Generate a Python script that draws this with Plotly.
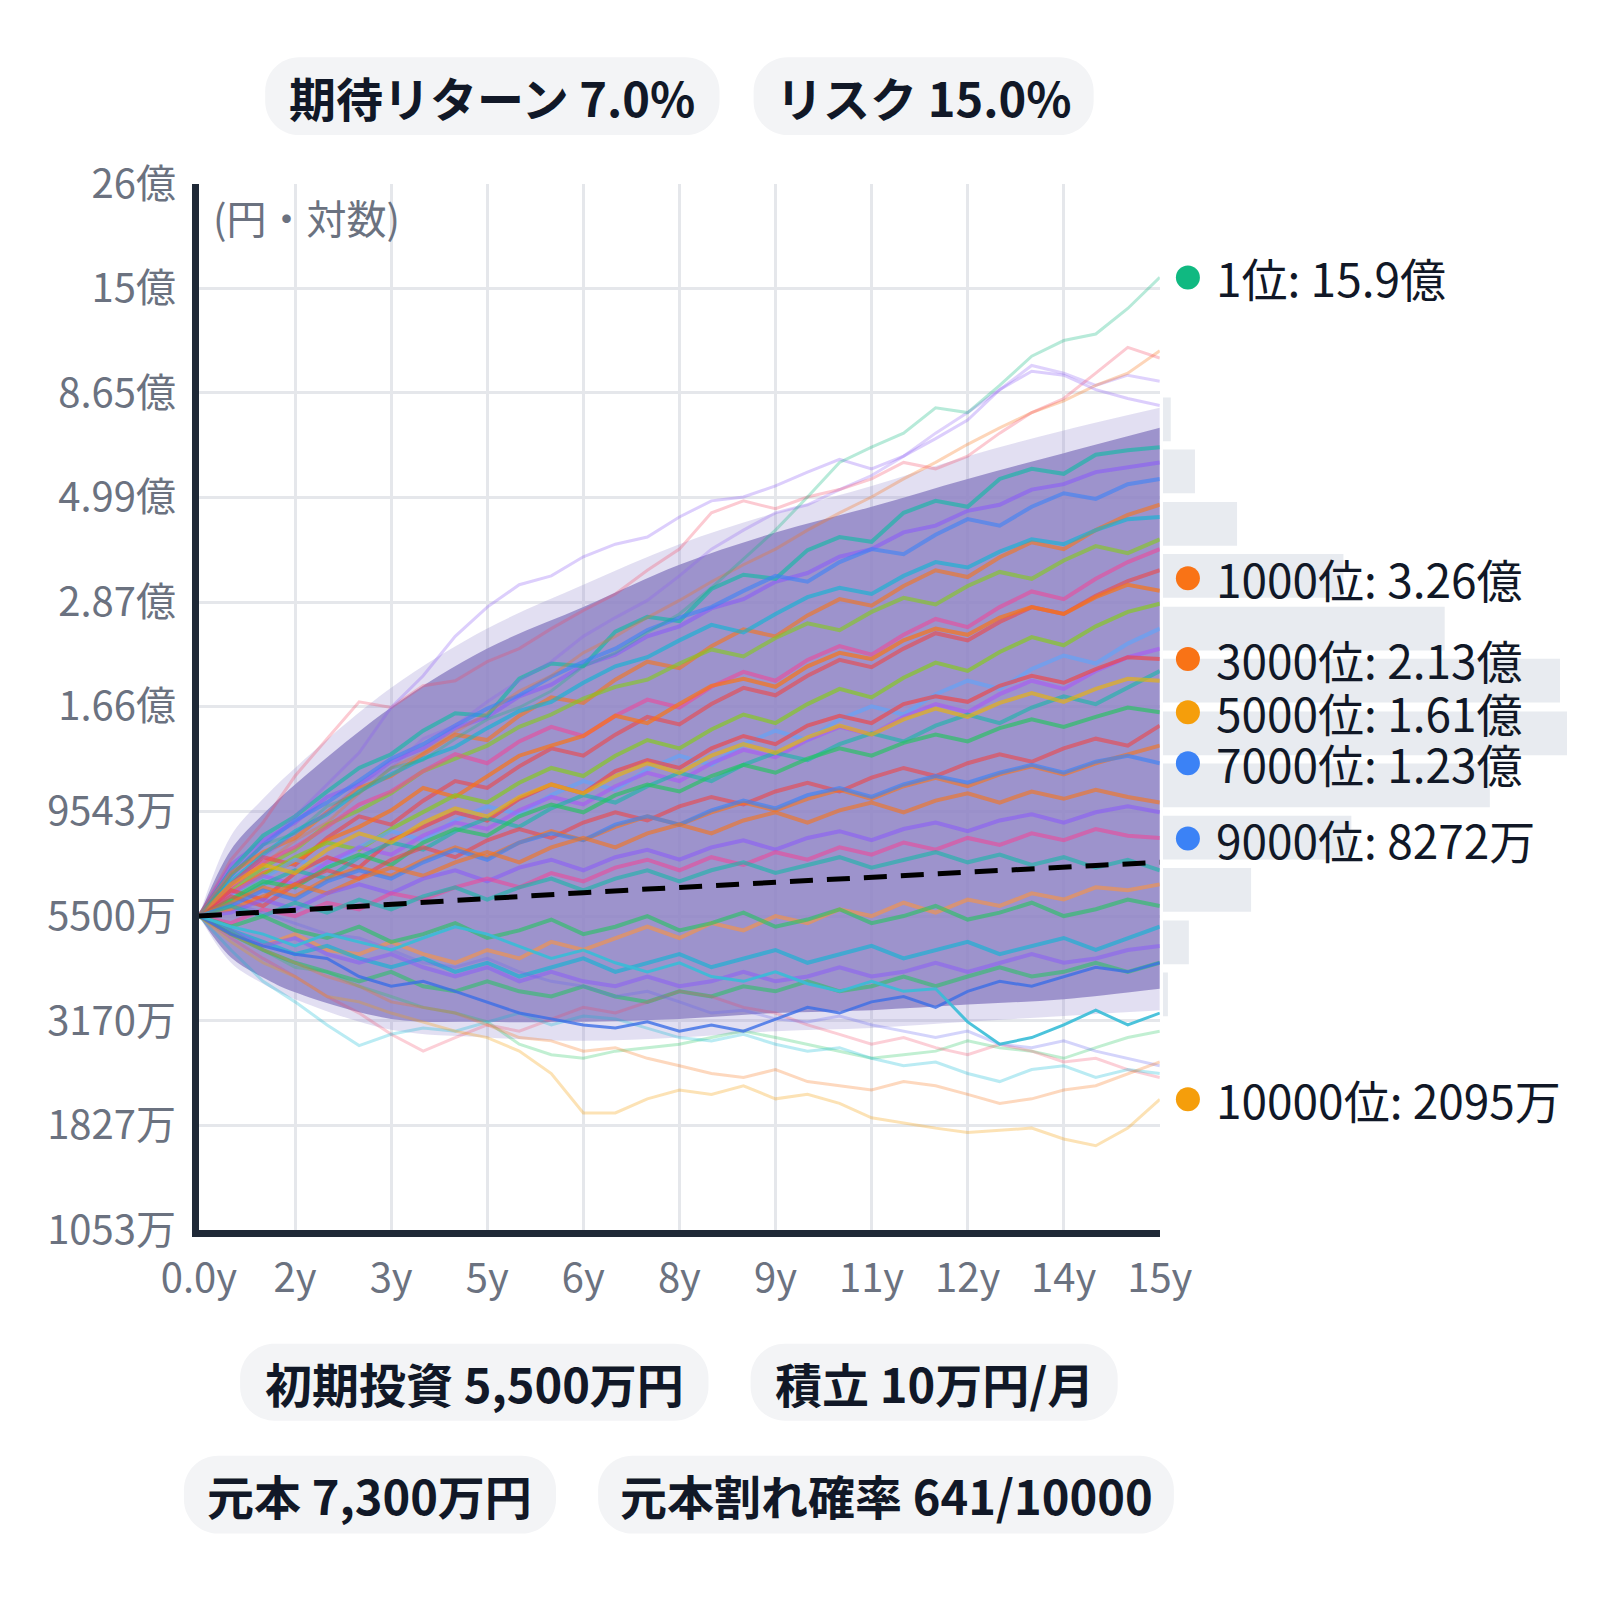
import math
import plotly.graph_objects as go

# ---- 時間軸 (年) ----
years = [0.0, 0.5, 1.0, 1.5, 2.0, 2.5, 3.0, 3.5, 4.0, 4.5, 5.0, 5.5, 6.0, 6.5, 7.0, 7.5,
         8.0, 8.5, 9.0, 9.5, 10.0, 10.5, 11.0, 11.5, 12.0, 12.5, 13.0, 13.5, 14.0, 14.5, 15.0]

# ---- 元本 (万円) ----
principal_years = [0, 1, 2, 3, 4, 5, 6, 7, 8, 9, 10, 11, 12, 13, 14, 15]
principal = [5500, 5620, 5740, 5860, 5980, 6100, 6220, 6340, 6460, 6580, 6700, 6820,
             6940, 7060, 7180, 7300]

# ---- シミュレーションの密集帯 (万円) ----
band_years = [0, 0.5, 1, 1.5, 3, 4.5, 6, 7.5, 9, 10.5, 12, 13.5, 15]
dense_top = [5500, 7800, 9400, 11000, 16500, 22500, 28000, 35000, 41500, 47500, 55000, 63000, 72000]
dense_bottom = [5500, 4420, 3980, 3680, 3200, 3150, 3150, 3200, 3300, 3350, 3450, 3550, 3750]
fringe_top = [5500, 8400, 10200, 12000, 18300, 25000, 31500, 39000, 46000, 53000, 62000, 71000, 80000]
fringe_bottom = [5500, 4300, 3850, 3550, 3020, 2900, 2850, 2900, 3000, 3050, 3150, 3250, 3350]

# ---- 個別パス (万円) ----
path_green_top = [5500, 6800, 8000, 8500, 9800, 10500, 12000, 12500, 14000, 15500, 16500, 18000, 20500,
                  22000, 24500, 27000, 31000, 36000, 42000, 50000, 60000, 65000, 70000, 80000, 78000,
                  90000, 105000, 114000, 118000, 135000, 159000]
path_purple_top = [5500, 7000, 8000, 9300, 11000, 13000, 16500, 19500, 24000, 28000, 31500, 33000, 36500,
                   39000, 40500, 45000, 49000, 50000, 53000, 57000, 61000, 58000, 62000, 68000, 75000,
                   88000, 97000, 95000, 88000, 84000, 81000]
path_red_top = [5500, 7400, 9000, 11500, 14000, 17000, 16500, 18500, 19000, 21000, 22500, 25000, 27500,
                30000, 34000, 38000, 46000, 49000, 47000, 50000, 52000, 55000, 60000, 58000, 62000,
                70000, 78000, 84000, 96000, 110000, 104000]
path_orange_top = [5500, 6500, 7200, 8200, 9000, 10500, 12000, 13000, 14500, 16000, 18000, 19500, 22000,
                   24000, 26500, 29000, 32000, 35000, 38000, 42000, 46000, 50000, 55000, 60000, 66000,
                   72000, 78000, 83000, 90000, 96000, 108000]
path_purple_top2 = [5500, 6500, 7500, 8500, 9500, 11000, 12000, 14000, 15000, 17000, 19000, 21000, 24000,
                    26500, 29000, 33000, 38000, 42000, 46000, 48000, 52000, 56000, 62000, 70000, 78000,
                    88000, 100000, 96000, 90000, 95000, 92000]
path_orange_low = [5500, 4800, 4300, 4000, 3600, 3500, 3300, 3150, 3000, 2900, 2700, 2400, 1950, 1950,
                   2100, 2200, 2150, 2250, 2100, 2150, 2050, 1900, 1850, 1800, 1760, 1780, 1800, 1700,
                   1640, 1800, 2095]
path_orange_low2 = [5500, 5000, 4600, 4300, 4000, 3800, 3500, 3400, 3300, 3100, 2900, 2850, 2700, 2750,
                    2600, 2500, 2400, 2350, 2450, 2300, 2250, 2200, 2300, 2250, 2150, 2050, 2100, 2200,
                    2250, 2400, 2550]
path_cyan_low = [5500, 4600, 3900, 3500, 3100, 2780, 2950, 3050, 3000, 3150, 3300, 3100, 3250, 3200,
                 3050, 2900, 2850, 2950, 2800, 2700, 2750, 2600, 2500, 2550, 2400, 2300, 2450, 2500,
                 2350, 2450, 2400]
path_blue_low2 = [5500, 5900, 5600, 5300, 5000, 4900, 4600, 4300, 4200, 4400, 4100, 3900, 3800, 3600,
                  3700, 3500, 3300, 3350, 3200, 3150, 3250, 3100, 3000, 2900, 3000, 2800, 2750, 2850,
                  2700, 2600, 2500]
path_green_low = [5500, 5100, 4600, 4200, 4100, 3800, 3600, 3400, 3300, 3150, 2800, 2650, 2600, 2700,
                  2750, 2800, 2900, 3000, 2900, 2800, 2700, 2600, 2650, 2700, 2850, 2750, 2700, 2600,
                  2750, 2900, 3000]
path_pink_low = [5500, 4900, 4400, 4000, 3600, 3300, 2950, 2700, 2900, 3100, 3000, 3200, 3400, 3300,
                 3500, 3700, 3600, 3400, 3300, 3100, 2950, 2800, 2900, 2750, 2650, 2800, 2700, 2550,
                 2600, 2450, 2350]
path_blue_low = [5500, 5000, 4700, 4500, 4400, 4000, 3800, 3900, 3700, 3500, 3300, 3200, 3100, 3050,
                 3150, 3000, 3100, 3000, 3200, 3400, 3300, 3500, 3600, 3400, 3700, 3900, 3800, 4000,
                 4200, 4100, 4300]
path_cyan_bold = [5500, 5200, 5000, 4700, 5000, 4800, 4600, 4900, 5200, 5000, 4700, 4400, 4600, 4300,
                  4100, 4300, 4000, 3900, 4100, 3850, 3700, 3900, 3700, 3750, 3150, 2800, 2900, 3100,
                  3350, 3100, 3300]

# 密集帯の中の目立つ線
core_a = [5500, 6200, 6900, 7300, 8200, 8800, 9600, 10800, 10300, 11500, 12800, 13500, 14200, 15800, 15200,
          16800, 18500, 19200, 18400, 20500, 22000, 21300, 23500, 25000, 24200, 26500, 28000, 27000, 29500,
          31500, 30500]
core_b = [5500, 6300, 6000, 6900, 7500, 7100, 8200, 8800, 9500, 9100, 10200, 11000, 10500, 11800, 12500,
          12000, 13300, 14200, 13600, 15000, 15800, 15200, 16800, 17500, 17000, 18500, 19500, 18800, 20200,
          21500, 21300]
core_c = [5500, 5800, 6300, 6000, 6600, 7000, 6700, 7300, 7800, 7400, 8100, 8500, 8200, 8900, 9300, 8900,
          9600, 10100, 9700, 10400, 10800, 10300, 11000, 11500, 11100, 11700, 12200, 11700, 12400, 12800,
          12300]
core_d = [5500, 6000, 6600, 6400, 7100, 7600, 7200, 8100, 8700, 8400, 9300, 9900, 9500, 10400, 11000,
          10600, 11500, 12200, 11700, 12600, 13300, 12800, 13700, 14300, 13800, 14800, 15500, 14900, 15700,
          16500, 16100]
core_e = [5500, 5300, 5700, 5500, 5900, 5700, 6200, 6000, 6400, 6700, 6400, 6900, 6600, 7100, 7400, 7000,
          7500, 7200, 7700, 7400, 7900, 7600, 8100, 7800, 8300, 8000, 8500, 8200, 8700, 8400, 8300]
core_f = [5500, 6600, 7600, 8600, 9400, 10600, 11600, 12600, 13400, 14800, 16200, 17000, 18800, 20500,
          21500, 23500, 25500, 24500, 27000, 29500, 31000, 30000, 33000, 35500, 34500, 37500, 40000, 39000,
          42000, 44500, 45000]
core_g = [5500, 5000, 4700, 5000, 4600, 4500, 4800, 4500, 4300, 4600, 4400, 4800, 4600, 4900, 5200, 4900,
          5300, 5100, 5500, 5300, 5700, 5500, 5900, 5600, 6000, 5800, 6200, 6000, 6400, 6300, 6500]
core_h = [5500, 6400, 7300, 7900, 8800, 9900, 10600, 11800, 12900, 12300, 13800, 14900, 14200, 15800,
          17200, 16500, 18400, 19900, 19000, 21200, 22800, 21800, 24200, 26300, 25200, 28000, 30400, 29200,
          32500, 35500, 38000]
core_i = [5500, 6100, 6700, 7400, 7100, 7900, 8600, 8200, 9100, 9800, 9400, 10400, 11200, 10700, 11900,
          12800, 12200, 13600, 14600, 13900, 15500, 16600, 15900, 17700, 19000, 18200, 20200, 21700, 20800,
          23100, 25000]
core_j = [5500, 6000, 6800, 7500, 8100, 7800, 8700, 9500, 10400, 10000, 11100, 12000, 11500, 12800, 13900,
          13300, 14700, 15900, 15200, 16800, 18200, 17400, 19300, 20900, 20000, 22100, 23900, 22900, 25300,
          27300, 28500]
core_k = [5500, 6800, 8000, 9100, 10000, 11200, 12600, 13600, 15000, 16400, 17600, 19400, 21000, 22500,
          24800, 26500, 28000, 30500, 33000, 32000, 35500, 38000, 37000, 41000, 44500, 43000, 47500, 51000,
          49500, 53500, 55000]
core_l = [5500, 5700, 6100, 6500, 6200, 6700, 7100, 6800, 7300, 7700, 7300, 7900, 8300, 7900, 8500, 8900,
          8500, 9100, 9500, 9000, 9600, 10000, 9500, 10100, 10500, 10000, 10600, 10200, 10700, 10300, 10000]
core_m = [5500, 5100, 4800, 4500, 4700, 4400, 4200, 4400, 4100, 4300, 4000, 4200, 4400, 4100, 4300, 4500,
          4200, 4400, 4600, 4300, 4500, 4700, 4400, 4600, 4800, 4500, 4700, 4900, 4600, 4900, 5200]
core_n = [5500, 5000, 4600, 4300, 4100, 3900, 4100, 3800, 3700, 3900, 3700, 3600, 3800, 3600, 3500, 3700,
          3600, 3800, 3700, 3900, 3700, 3800, 4000, 3800, 4000, 4200, 4000, 4100, 4300, 4100, 4300]
core_o = [5500, 6100, 5800, 6500, 7000, 6700, 7400, 7900, 7500, 8200, 8700, 8300, 9000, 9500, 9100, 9800,
          10300, 9900, 10600, 11100, 10600, 11400, 12000, 11500, 12300, 12900, 12400, 13300, 14000, 13500,
          15000]
core_p = [5500, 6500, 7200, 6900, 7800, 8500, 8100, 9000, 9700, 9300, 10300, 11000, 10500, 11500, 12300,
          11700, 12800, 13600, 13000, 14100, 15000, 14300, 15500, 16400, 15700, 16900, 17800, 17000, 18200,
          19200, 19000]
core_q = [5500, 7000, 8400, 9300, 10600, 12000, 12900, 14600, 16000, 15800, 19200, 20800, 20500, 24600,
          26600, 26000, 30800, 33200, 32500, 37800, 40500, 39500, 46000, 49000, 47500, 55000, 58000, 56500,
          62500, 64000, 65000]
core_r = [5500, 5800, 5500, 5900, 5600, 6000, 5700, 6100, 6400, 6000, 6400, 6700, 6300, 6700, 7000, 6600,
          7000, 7300, 6900, 7200, 7500, 7100, 7400, 7700, 7300, 7600, 7200, 7500, 7100, 7400, 7000]
core_s = [5500, 6300, 7100, 7800, 8900, 9600, 10500, 11800, 12600, 13500, 14900, 15900, 17300, 18400, 19100,
          20800, 22400, 21600, 23800, 25700, 24800, 27300, 29400, 28400, 31300, 33700, 32500, 35800, 38600,
          37200, 40000]
core_t = [5500, 5900, 6500, 7000, 6700, 7500, 8100, 7800, 8600, 9200, 8800, 9700, 10400, 10000, 10900,
          11700, 11200, 12200, 13000, 12500, 13600, 14400, 13800, 15000, 15900, 15200, 16500, 17500, 16800,
          18300, 20000]
core_u = [5500, 6900, 7700, 8300, 9500, 10800, 11500, 12900, 14300, 13900, 15800, 17400, 16900, 19100,
          21000, 20300, 22800, 24900, 24000, 26800, 29200, 28200, 31300, 34000, 32800, 36400, 39400, 38000,
          42000, 45500, 48000]
core_v = [5500, 5200, 5500, 5100, 4900, 5200, 4800, 5000, 5300, 4900, 5100, 5400, 5000, 5200, 5500, 5100,
          5300, 5600, 5200, 5400, 5700, 5300, 5500, 5800, 5400, 5600, 5900, 5500, 5700, 6000, 5800]
core_w = [5500, 5600, 6000, 5700, 6200, 6500, 6200, 6700, 7000, 6600, 7100, 7400, 7000, 7500, 7800, 7400,
          7900, 8200, 7800, 8300, 8600, 8200, 8700, 9000, 8600, 9100, 9400, 9000, 9500, 9800, 9500]
core_x = [5500, 6200, 6800, 6500, 7300, 7900, 7600, 8400, 9000, 8700, 9600, 10300, 9900, 10900, 11700,
          11200, 12300, 13200, 12700, 13900, 14900, 14300, 15700, 16800, 16100, 17700, 19000, 18200, 20000,
          21500, 22500]
core_y = [5500, 5900, 6400, 6100, 6700, 7100, 6800, 7400, 7900, 7500, 8100, 8600, 8200, 8800, 9300, 8900,
          9500, 10000, 9600, 10200, 10700, 10200, 10900, 11400, 10900, 11600, 12100, 11600, 12300, 12900,
          13500]
core_z = [5500, 5100, 4700, 4900, 4500, 4300, 4500, 4200, 4000, 4200, 3900, 4100, 3900, 3800, 4000, 3800,
          3900, 4100, 3900, 4000, 4200, 4000, 4100, 4300, 4100, 4300, 4500, 4300, 4400, 4600, 4700]
core_aa = [5500, 7200, 8200, 9000, 10300, 11000, 12400, 13300, 14800, 15700, 17500, 18600, 20600, 21800,
           24000, 25300, 27800, 29200, 32000, 33500, 36500, 38000, 41500, 43000, 46500, 48000, 52000, 53500,
           57000, 58500, 60000]
core_ab = [5500, 6500, 7500, 7200, 8300, 9300, 8900, 10100, 11200, 10800, 12100, 13300, 12800, 14300,
           15700, 15100, 16800, 18300, 17600, 19500, 21200, 20400, 22500, 24400, 23500, 25900, 28000, 27000,
           29700, 32100, 34000]

# ---- 15年後の分布ヒストグラム ----
hist_bin_centers = [75300, 57200, 43400, 33000, 25000, 19000, 14400, 10950, 8310, 6310, 4790, 3640]
hist_counts = [39, 158, 365, 888, 1386, 1953, 2091, 1608, 927, 434, 128, 25]

# ---- 順位ラベル ----
rank_labels = ["1位: 15.9億", "1000位: 3.26億", "3000位: 2.13億", "5000位: 1.61億",
               "7000位: 1.23億", "9000位: 8272万", "10000位: 2095万"]
rank_values = [159000, 32600, 21300, 16100, 12300, 8272, 2095]
rank_colors = ["#10b981", "#f97316", "#f97316", "#f59e0b", "#3b82f6", "#3b82f6", "#f59e0b"]

# ---- 軸 ----
y_tickvals = [1053, 1827, 3170, 5500, 9543, 16600, 28700, 49900, 86500, 150000, 260000]
y_ticktext = ["1053万", "1827万", "3170万", "5500万", "9543万", "1.66億", "2.87億",
              "4.99億", "8.65億", "15億", "26億"]
x_tickvals = [0, 1.5, 3, 4.5, 6, 7.5, 9, 10.5, 12, 13.5, 15]
x_ticktext = ["0.0y", "2y", "3y", "5y", "6y", "8y", "9y", "11y", "12y", "14y", "15y"]

pill_top = ["期待リターン 7.0%", "リスク 15.0%"]
pill_bottom = ["初期投資 5,500万円", "積立 10万円/月", "元本 7,300万円", "元本割れ確率 641/10000"]

FONT = "Noto Sans CJK JP"
FIG = 1600
# the page shows up slightly shrunk and offset, so layout pixels are mapped back
SX, OX = 0.9528, 40.5
SY, OY = 0.9648, 31.8


def fig_x(p):
    return (p - OX) / SX


def fig_y(p):
    return (p - OY) / SY


def px_x(px):
    return fig_x(px) / FIG


def px_y(py):
    return 1 - fig_y(py) / FIG


fig = go.Figure()

# 密集帯
fig.add_trace(go.Scatter(x=band_years, y=fringe_bottom, mode="lines", line=dict(width=0, shape="spline"),
                         hoverinfo="skip"))
fig.add_trace(go.Scatter(x=band_years, y=fringe_top, mode="lines", line=dict(width=0, shape="spline"),
                         fill="tonexty", fillcolor="rgba(150,140,210,0.28)", hoverinfo="skip"))
fig.add_trace(go.Scatter(x=band_years, y=dense_bottom, mode="lines", line=dict(width=0, shape="spline"),
                         hoverinfo="skip"))
fig.add_trace(go.Scatter(x=band_years, y=dense_top, mode="lines", line=dict(width=0, shape="spline"),
                         fill="tonexty", fillcolor="rgba(146,134,198,0.86)", hoverinfo="skip"))

core_styles = [
    (core_aa, "rgba(139,92,246,0.6)"),
    (core_q, "rgba(20,184,166,0.65)"),
    (core_k, "rgba(59,130,246,0.6)"),
    (core_u, "rgba(249,115,22,0.6)"),
    (core_f, "rgba(6,182,212,0.6)"),
    (core_s, "rgba(132,204,22,0.6)"),
    (core_h, "rgba(236,72,153,0.6)"),
    (core_ab, "rgba(239,68,68,0.6)"),
    (core_a, "rgba(249,115,22,0.7)"),
    (core_j, "rgba(132,204,22,0.65)"),
    (core_i, "rgba(96,165,250,0.65)"),
    (core_x, "rgba(168,85,247,0.6)"),
    (core_b, "rgba(239,68,68,0.65)"),
    (core_t, "rgba(20,184,166,0.6)"),
    (core_p, "rgba(234,179,8,0.65)"),
    (core_d, "rgba(34,197,94,0.65)"),
    (core_o, "rgba(239,68,68,0.6)"),
    (core_y, "rgba(249,115,22,0.6)"),
    (core_c, "rgba(59,130,246,0.65)"),
    (core_l, "rgba(249,115,22,0.6)"),
    (core_w, "rgba(139,92,246,0.6)"),
    (core_e, "rgba(236,72,153,0.6)"),
    (core_r, "rgba(20,184,166,0.6)"),
    (core_g, "rgba(251,146,60,0.6)"),
    (core_v, "rgba(34,197,94,0.6)"),
    (core_m, "rgba(6,182,212,0.6)"),
    (core_z, "rgba(139,92,246,0.55)"),
    (core_n, "rgba(34,197,94,0.55)"),
]
for vals, color in core_styles:
    fig.add_trace(go.Scatter(x=years, y=vals, mode="lines", line=dict(color=color, width=4),
                             hoverinfo="skip"))

outlier_styles = [
    (path_purple_top2, "rgba(139,92,246,0.28)"),
    (path_orange_top, "rgba(249,115,22,0.3)"),
    (path_red_top, "rgba(244,63,94,0.28)"),
    (path_purple_top, "rgba(139,92,246,0.3)"),
    (path_green_top, "rgba(16,185,129,0.3)"),
    (path_green_low, "rgba(34,197,94,0.28)"),
    (path_pink_low, "rgba(244,63,94,0.25)"),
    (path_blue_low2, "rgba(99,102,241,0.28)"),
    (path_cyan_low, "rgba(6,182,212,0.28)"),
    (path_orange_low2, "rgba(249,115,22,0.28)"),
    (path_orange_low, "rgba(245,158,11,0.3)"),
    (path_blue_low, "rgba(59,110,230,0.8)"),
    (path_cyan_bold, "rgba(56,189,215,0.9)"),
]
for vals, color in outlier_styles:
    fig.add_trace(go.Scatter(x=years, y=vals, mode="lines", line=dict(color=color, width=3),
                             hoverinfo="skip"))

# 元本ライン
fig.add_trace(go.Scatter(x=principal_years, y=principal, mode="lines",
                         line=dict(color="#000000", width=5, dash="23px,14px"), hoverinfo="skip"))

# 分布ヒストグラム (右側)
bar_left = fig_x(1162)
count_per_px = 2091 / (424 / SX)
x2_max = (FIG - bar_left) * count_per_px
fig.add_trace(go.Bar(x=hist_counts, y=[math.log10(v) for v in hist_bin_centers], orientation="h",
                     width=0.1, marker=dict(color="#e8ebf0", line=dict(width=0)),
                     xaxis="x2", yaxis="y2", hoverinfo="skip"))

# 順位の点
dot_x2 = (fig_x(1187) - bar_left) * count_per_px
fig.add_trace(go.Scatter(x=[dot_x2] * len(rank_values), y=[math.log10(v) for v in rank_values],
                         mode="markers", marker=dict(size=24, color=rank_colors, line=dict(width=0)),
                         xaxis="x2", yaxis="y2", cliponaxis=False, hoverinfo="skip"))

x_dom = [px_x(201), px_x(1159)]
y_dom = [px_y(1231), px_y(184)]
y_range = [math.log10(y_tickvals[0]), math.log10(y_tickvals[-1])]

fig.update_layout(
    width=FIG, height=FIG,
    margin=dict(l=0, r=0, t=0, b=0),
    paper_bgcolor="white", plot_bgcolor="white",
    showlegend=False,
    font=dict(family=FONT, color="#6b7280"),
    xaxis=dict(domain=x_dom, range=[0, 15], tickvals=x_tickvals, ticktext=x_ticktext,
               showgrid=True, gridcolor="#e5e7eb", gridwidth=3, zeroline=False,
               showline=True, linecolor="#1f2937", linewidth=7,
               ticks="outside", ticklen=7, tickcolor="rgba(0,0,0,0)",
               tickfont=dict(family=FONT, size=40, color="#6b7280"), anchor="y", fixedrange=True),
    yaxis=dict(domain=y_dom, type="log", range=y_range, tickvals=y_tickvals, ticktext=y_ticktext,
               showgrid=True, gridcolor="#e5e7eb", gridwidth=3, zeroline=False,
               showline=True, linecolor="#1f2937", linewidth=7,
               ticks="outside", ticklen=8, tickcolor="rgba(0,0,0,0)",
               tickfont=dict(family=FONT, size=40, color="#6b7280"), anchor="x", fixedrange=True),
    xaxis2=dict(domain=[bar_left / FIG, 1.0], range=[0, x2_max], visible=False, anchor="y2",
                fixedrange=True),
    yaxis2=dict(domain=y_dom, range=y_range, visible=False, anchor="x2", fixedrange=True),
)


def pill_path(x0, y0, x1, y1, r):
    k = 0.5523 * r
    pts = [
        ("M", [(x0 + r, y0)]),
        ("L", [(x1 - r, y0)]),
        ("C", [(x1 - r + k, y0), (x1, y0 + r - k), (x1, y0 + r)]),
        ("L", [(x1, y1 - r)]),
        ("C", [(x1, y1 - r + k), (x1 - r + k, y1), (x1 - r, y1)]),
        ("L", [(x0 + r, y1)]),
        ("C", [(x0 + r - k, y1), (x0, y1 - r + k), (x0, y1 - r)]),
        ("L", [(x0, y0 + r)]),
        ("C", [(x0, y0 + r - k), (x0 + r - k, y0), (x0 + r, y0)]),
    ]
    s = ""
    for cmd, coords in pts:
        s += cmd + " " + " ".join(f"{px_x(a):.5f},{px_y(b):.5f}" for a, b in coords) + " "
    return s + "Z"


pill_boxes = [
    (pill_top[0], 267, 57, 720, 135),
    (pill_top[1], 754, 57, 1093, 135),
    (pill_bottom[0], 242, 1345, 709, 1422),
    (pill_bottom[1], 751, 1345, 1117, 1422),
    (pill_bottom[2], 186, 1457, 557, 1535),
    (pill_bottom[3], 599, 1457, 1173, 1535),
]

shapes = []
annotations = []
for text, x0, y0, x1, y1 in pill_boxes:
    shapes.append(dict(type="path", xref="paper", yref="paper", path=pill_path(x0, y0, x1, y1, 34),
                       fillcolor="#f3f4f6", line=dict(width=0), layer="below"))
    annotations.append(dict(text=text, xref="paper", yref="paper", x=px_x((x0 + x1) / 2),
                            y=px_y((y0 + y1) / 2), xanchor="center", yanchor="middle", showarrow=False,
                            font=dict(family=FONT, size=47, color="#111827", weight=700)))

# 順位ラベル
for text, val in zip(rank_labels, rank_values):
    annotations.append(dict(text=text, xref="paper", yref="y", x=px_x(1213), y=math.log10(val),
                            xanchor="left", yanchor="middle", showarrow=False,
                            font=dict(family=FONT, size=46, color="#111827")))

annotations.append(dict(text="(円・対数)", xref="paper", yref="paper", x=px_x(213), y=px_y(217),
                        xanchor="left", yanchor="middle", showarrow=False,
                        font=dict(family=FONT, size=40, color="#6b7280")))

fig.update_layout(shapes=shapes, annotations=annotations)

fig.write_html("out.html", config={"displayModeBar": False},
               post_script="document.body.style.margin='0';")
